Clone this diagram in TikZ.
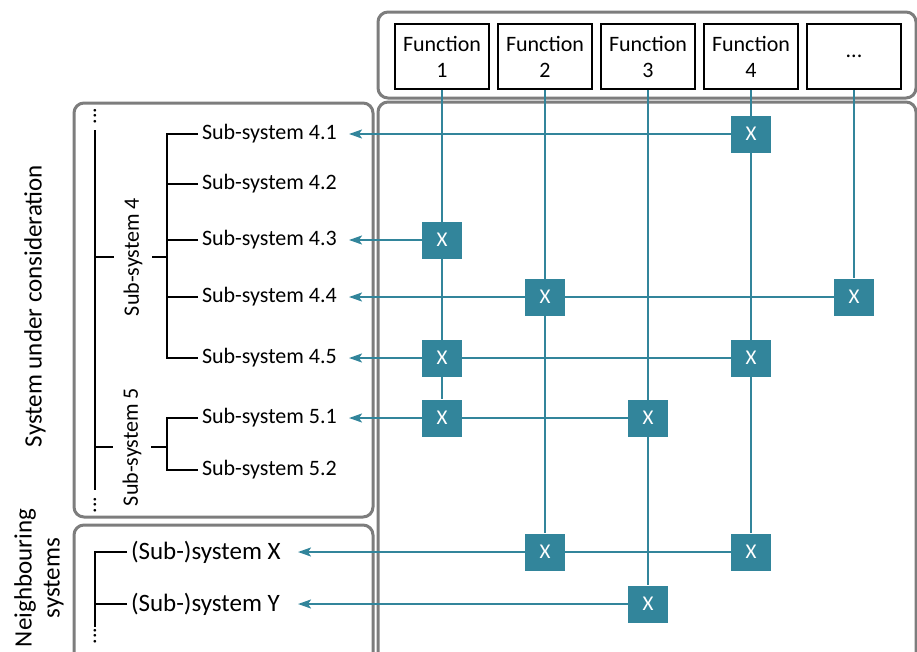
\documentclass[tikz,border=0pt]{standalone}
\usepackage{fontspec}
\setmainfont{Carlito}
\usepackage{tikz}
\usetikzlibrary{positioning, backgrounds, arrows.meta}
\definecolor{xteal}{RGB}{50,133,155}
\definecolor{framegray}{RGB}{125,125,125}

\begin{document}
\begin{tikzpicture}[x=1pt, y=-1pt, node distance=7pt,
  func node/.style={rectangle,draw,line width=2pt,fill=white,minimum width=94pt,minimum height=65pt,
    align=center,inner sep=0pt,font=\fontsize{22}{26}\selectfont},
  cross node/.style={rectangle,fill=xteal,text=white,minimum width=40pt,minimum height=37pt,
    inner sep=0pt,font=\fontsize{21}{25}\selectfont},
  sub node/.style={anchor=west,inner sep=0pt,outer sep=4pt,font=\fontsize{22}{26}\selectfont},
  nb node/.style={anchor=west,inner sep=0pt,outer sep=4pt,font=\fontsize{25}{28}\selectfont},
  group node/.style={rotate=90,inner sep=0pt,outer xsep=0pt,outer ysep=10pt,font=\fontsize{22}{26}\selectfont},
  dots node/.style={rotate=90,inner sep=0pt,font=\fontsize{22}{26}\selectfont},
  side node/.style={rotate=90,align=center,inner sep=0pt,font=\fontsize{25}{28}\selectfont},
  frame/.style={draw=framegray,line width=3pt,rounded corners=10pt},
  tree/.style={line width=2pt},
  link/.style={draw=xteal,line width=2pt},
  arrow/.style={link,-{Stealth[length=13pt,width=9pt,inset=3pt]}}]

\useasboundingbox (0,0) rectangle (917,651);

\begin{scope}[on background layer]
\draw[frame] (378,12) rectangle (916,98);
\draw[frame] (378,102) rectangle (916,670);
\draw[frame] (74,103) rectangle (373,517);
\draw[frame] (74,525) rectangle (373,670);
\end{scope}

% functions
\node[func node] (f1) at (442,56.5) {Function\\1};
\node[func node] (f2) [right=of f1] {Function\\2};
\node[func node] (f3) [right=of f2] {Function\\3};
\node[func node] (f4) [right=of f3] {Function\\4};
\node[func node] (f5) [right=of f4] {...};

% side texts
\node[side node] (sys) at (35,306) {System under consideration};
\node[side node] (nbs) at (39,578) {Neighbouring\\systems};

% sub-systems
\node[sub node] (s41) at (198,134) {Sub-system 4.1};
\node[sub node] (s42) at (198,184) {Sub-system 4.2};
\node[sub node] (s43) at (198,240) {Sub-system 4.3};
\node[sub node] (s44) at (198,297) {Sub-system 4.4};
\node[sub node] (s45) at (198,358) {Sub-system 4.5};
\node[sub node] (s51) at (198,418) {Sub-system 5.1};
\node[sub node] (s52) at (198,470) {Sub-system 5.2};
\node[nb node] (nx) at (127,552) {(Sub-)system X};
\node[nb node] (ny) at (127,604) {(Sub-)system Y};

\node[group node] (g4) at (133,257) {Sub-system 4};
\node[group node] (g5) at (132,447) {Sub-system 5};

\node[dots node] (d1) at (95,116) {...};
\node[dots node] (d2) at (95,505) {...};
\node[dots node] (d3) at (95,636) {...};

% tree
\coordinate (t1) at (95,130);
\coordinate (t2) at (95,490);
\coordinate (t3) at (95,627);
\coordinate (bus) at (167,0);
\draw[tree] (t1) -- (t2);
\draw[tree] (t1 |- g4) -- (g4.north);
\draw[tree] (t1 |- g5) -- (g5.north);
\draw[tree] (g4.south) -- (bus |- g4);
\draw[tree] (g5.south) -- (bus |- g5);
\draw[tree] (s41.west) -| (bus |- s45) -- (s45.west);
\foreach \s in {s42,s43,s44}
  \draw[tree] (\s.west) -- (bus |- \s);
\draw[tree] (s51.west) -| (bus |- s52) -- (s52.west);
\draw[tree] (nx.west) -| (t3);
\draw[tree] (ny.west) -- (t3 |- ny);

% matrix
\node[cross node] (x41) at (f4 |- s41) {X};
\node[cross node] (x43) at (f1 |- s43) {X};
\node[cross node] (x44a) at (f2 |- s44) {X};
\node[cross node] (x44b) at (f5 |- s44) {X};
\node[cross node] (x45a) at (f1 |- s45) {X};
\node[cross node] (x45b) at (f4 |- s45) {X};
\node[cross node] (x51a) at (f1 |- s51) {X};
\node[cross node] (x51b) at (f3 |- s51) {X};
\node[cross node] (xxa) at (f2 |- nx) {X};
\node[cross node] (xxb) at (f4 |- nx) {X};
\node[cross node] (xya) at (f3 |- ny) {X};

\coordinate (tipS) at (349,0);
\coordinate (tipN) at (298,0);

\begin{scope}[on background layer]
\draw[link] (f1) -- (x51a);
\draw[link] (f2) -- (xxa);
\draw[link] (f3) -- (xya);
\draw[link] (f4) -- (xxb);
\draw[link] (f5) -- (x44b);
\foreach \x in {x41,x43,x44b,x45b,x51b}
  \draw[arrow] (\x) -- (\x -| tipS);
\foreach \x in {xxb,xya}
  \draw[arrow] (\x) -- (\x -| tipN);
\end{scope}
\end{tikzpicture}
\end{document}
